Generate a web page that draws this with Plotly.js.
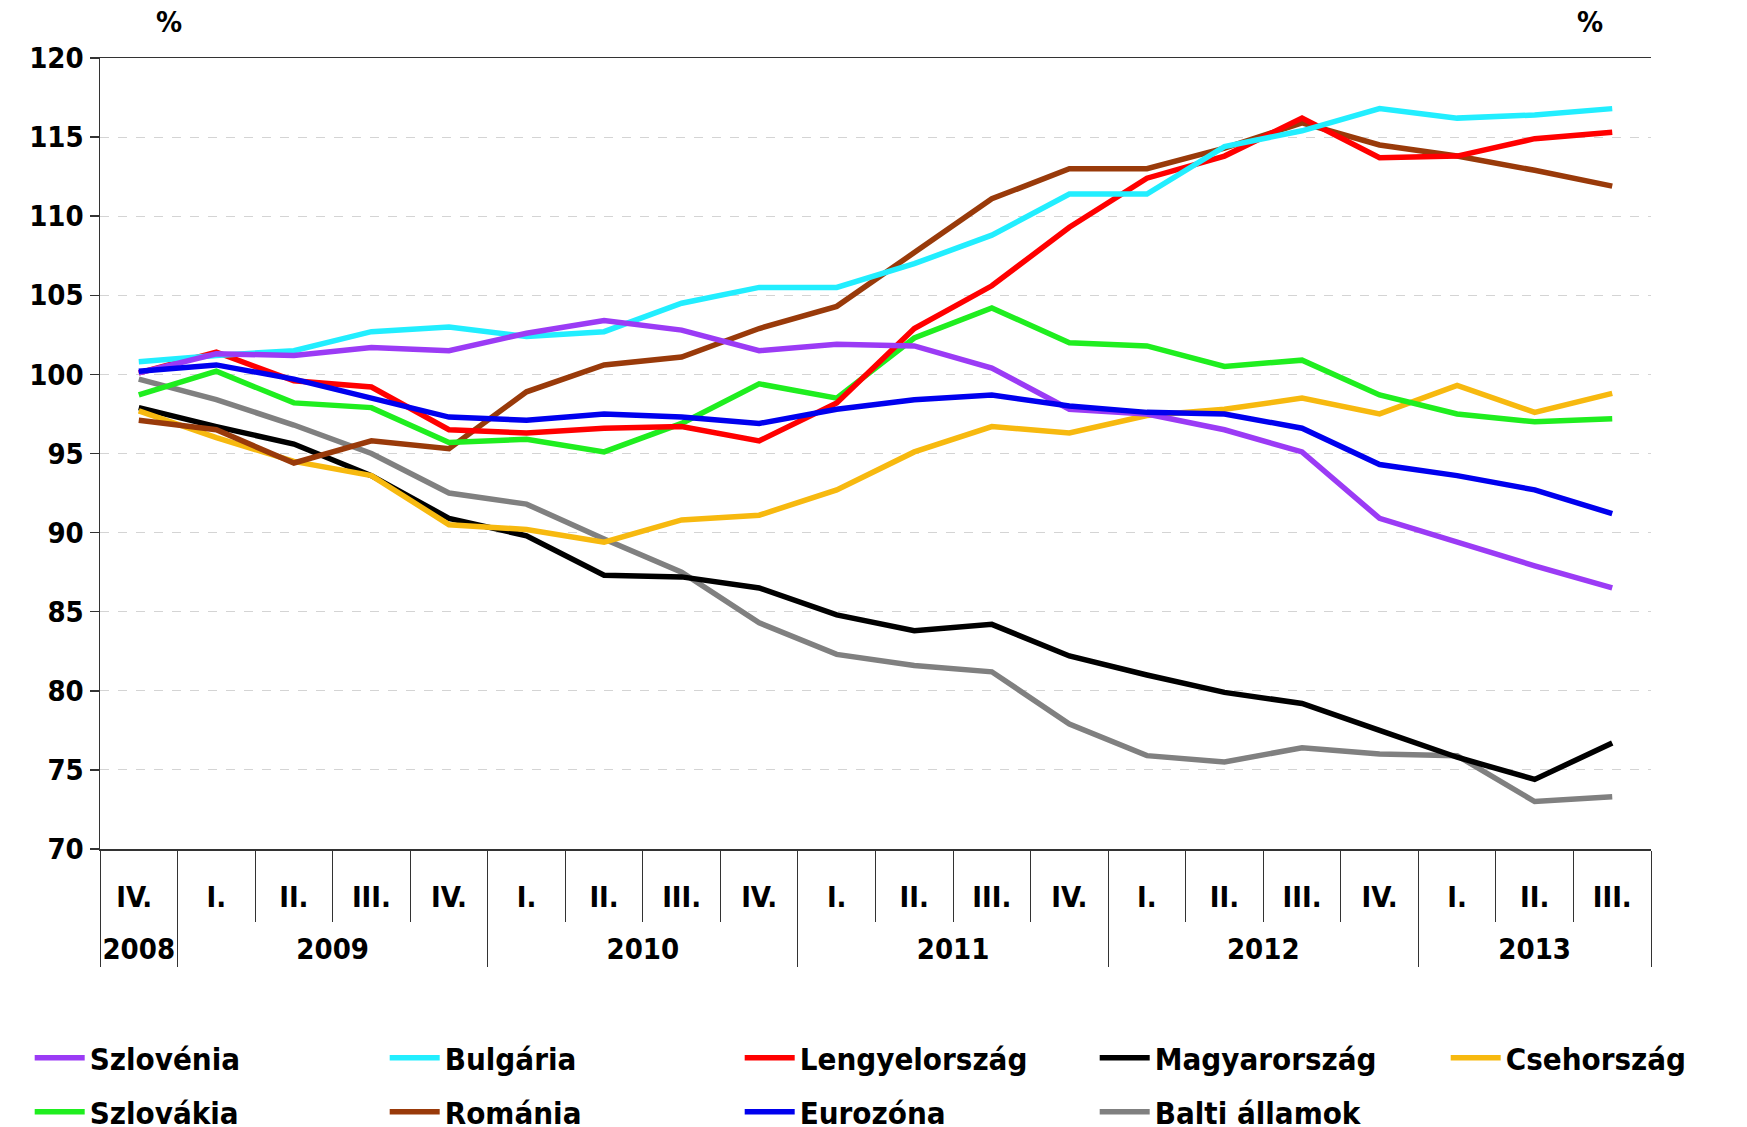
<!DOCTYPE html>
<html>
<head>
<meta charset="utf-8">
<script src="https://cdn.plot.ly/plotly-3.0.1.min.js"></script>
<style>
  html, body { margin: 0; padding: 0; background: #fff; }
  #chart { width: 1747px; height: 1127px; }
</style>
</head>
<body>
<div id="chart"></div>
<script>
// negyedévek (2008 IV. – 2013 III.)
// az évek előtti <br> lejjebb tolja az évszámokat a második sorba;
// a 2008-as "IV. " szóközzel különbözik, hogy a multicategory tengely ne rendezze át a 2009-es negyedéveket
const years = ['<br>2008', '<br>2009', '<br>2009', '<br>2009', '<br>2009',
  '<br>2010', '<br>2010', '<br>2010', '<br>2010', '<br>2011', '<br>2011', '<br>2011', '<br>2011',
  '<br>2012', '<br>2012', '<br>2012', '<br>2012', '<br>2013', '<br>2013', '<br>2013'];
const quarters = ['IV. ', 'I.', 'II.', 'III.', 'IV.', 'I.', 'II.', 'III.', 'IV.',
  'I.', 'II.', 'III.', 'IV.', 'I.', 'II.', 'III.', 'IV.', 'I.', 'II.', 'III.'];

const szlovenia = [100.1, 101.3, 101.2, 101.7, 101.5, 102.6, 103.4, 102.8, 101.5, 101.9,
  101.8, 100.4, 97.8, 97.5, 96.5, 95.1, 90.9, 89.4, 87.9, 86.5];
const bulgaria = [100.8, 101.2, 101.5, 102.7, 103.0, 102.4, 102.7, 104.5, 105.5, 105.5,
  107.0, 108.8, 111.4, 111.4, 114.4, 115.4, 116.8, 116.2, 116.4, 116.8];
const lengyelorszag = [100.1, 101.4, 99.6, 99.2, 96.5, 96.3, 96.6, 96.7, 95.8, 98.2,
  102.9, 105.6, 109.3, 112.4, 113.8, 116.2, 113.7, 113.8, 114.9, 115.3];
const magyarorszag = [97.9, 96.7, 95.6, 93.6, 90.9, 89.8, 87.3, 87.2, 86.5, 84.8,
  83.8, 84.2, 82.2, 81.0, 79.9, 79.2, 77.5, 75.8, 74.4, 76.7];
const csehorszag = [97.7, 96.0, 94.5, 93.6, 90.5, 90.2, 89.4, 90.8, 91.1, 92.7,
  95.1, 96.7, 96.3, 97.4, 97.8, 98.5, 97.5, 99.3, 97.6, 98.8];
const szlovakia = [98.7, 100.2, 98.2, 97.9, 95.7, 95.9, 95.1, 96.9, 99.4, 98.5,
  102.3, 104.2, 102.0, 101.8, 100.5, 100.9, 98.7, 97.5, 97.0, 97.2];
const romania = [97.1, 96.5, 94.4, 95.8, 95.3, 98.9, 100.6, 101.1, 102.9, 104.3,
  107.7, 111.1, 113.0, 113.0, 114.3, 115.9, 114.5, 113.8, 112.9, 111.9];
const eurozona = [100.2, 100.6, 99.7, 98.5, 97.3, 97.1, 97.5, 97.3, 96.9, 97.8,
  98.4, 98.7, 98.0, 97.6, 97.5, 96.6, 94.3, 93.6, 92.7, 91.2];
const balti = [99.7, 98.4, 96.8, 95.0, 92.5, 91.8, 89.6, 87.5, 84.3, 82.3,
  81.6, 81.2, 77.9, 75.9, 75.5, 76.4, 76.0, 75.9, 73.0, 73.3];

// legend: 1. sor az első négy, az 5. oszlop külön, 2. sor a többi
const SERIES = [
  { name: 'Szlovénia', y: szlovenia, color: '#9B3BF5', legend: 'legend' },
  { name: 'Bulgária', y: bulgaria, color: '#22EEFF', legend: 'legend' },
  { name: 'Lengyelország', y: lengyelorszag, color: '#FF0000', legend: 'legend' },
  { name: 'Magyarország', y: magyarorszag, color: '#000000', legend: 'legend' },
  { name: 'Csehország', y: csehorszag, color: '#F7B90F', legend: 'legend3' },
  { name: 'Szlovákia', y: szlovakia, color: '#1FEE1F', legend: 'legend2' },
  { name: 'Románia', y: romania, color: '#993A0A', legend: 'legend2' },
  { name: 'Eurozóna', y: eurozona, color: '#0000EE', legend: 'legend2' },
  { name: 'Balti államok', y: balti, color: '#808080', legend: 'legend2' },
];

const FONT = '"Liberation Sans Narrow", "Arial Narrow", "DejaVu Sans Condensed", sans-serif';
const LBL = { family: FONT, size: 29, color: '#000', weight: 'bold' };

// rajzolási sorrend: a szürke és fekete alul
const drawOrder = [8, 3, 4, 6, 5, 2, 1, 0, 7];
const traces = drawOrder.map((i) => {
  const s = SERIES[i];
  return {
    x: [years, quarters], y: s.y, type: 'scatter', mode: 'lines', name: s.name,
    line: { color: s.color, width: 5.5 }, legend: s.legend, legendrank: i,
    hoverinfo: 'skip',
  };
});

const yAxisBase = {
  range: [70, 120], dtick: 5, tick0: 70, fixedrange: true,
  ticks: 'outside', ticklen: 9, tickcolor: '#333', tickwidth: 1.5,
  showline: true, linecolor: '#333', linewidth: 1.5,
  tickfont: LBL, zeroline: false,
};

const COL = 354 / 1747; // oszlopköz a jelmagyarázatban
const legendBase = {
  orientation: 'h', xref: 'container', yref: 'container', xanchor: 'left', yanchor: 'middle',
  font: { family: FONT, size: 31, color: '#000', weight: 'bold' },
  entrywidthmode: 'pixels', entrywidth: 290, itemwidth: 50, traceorder: 'normal',
  bgcolor: 'rgba(0,0,0,0)', itemclick: false, itemdoubleclick: false,
};
const LEG_X = 0.017;

const layout = {
  width: 1747, height: 1127,
  margin: { l: 100, r: 96, t: 58, b: 278 },
  paper_bgcolor: '#fff', plot_bgcolor: '#fff',
  showlegend: true,
  xaxis: {
    type: 'multicategory', fixedrange: true, range: [-0.5, 19.5],
    showline: true, mirror: true, linecolor: '#333', linewidth: 1.5,
    ticks: 'outside', ticklen: 71, tickcolor: '#333', tickwidth: 1,
    showdividers: true, dividercolor: '#333', dividerwidth: 1,
    tickfont: LBL, showgrid: false, ticklabelstandoff: 22,
  },
  yaxis: Object.assign({}, yAxisBase, {
    showgrid: true, gridcolor: '#D4D4D4', griddash: 'dash', gridwidth: 1,
  }),
  yaxis2: Object.assign({}, yAxisBase, {
    overlaying: 'y', side: 'right', showgrid: false,
  }),
  legend: Object.assign({}, legendBase, { x: LEG_X, y: 1 - 1058 / 1127 }),
  legend3: Object.assign({}, legendBase, { x: LEG_X + 4 * COL, y: 1 - 1058 / 1127 }),
  legend2: Object.assign({}, legendBase, { x: LEG_X, y: 1 - 1112 / 1127 }),
  annotations: [
    { text: '%', xref: 'paper', yref: 'paper', x: 0.0445, y: 1.0455, showarrow: false,
      font: LBL, xanchor: 'center', yanchor: 'middle' },
    { text: '%', xref: 'paper', yref: 'paper', x: 0.9607, y: 1.0455, showarrow: false,
      font: LBL, xanchor: 'center', yanchor: 'middle' },
  ],
};

Plotly.newPlot('chart', traces, layout, { displayModeBar: false, staticPlot: true });
</script>
</body>
</html>
